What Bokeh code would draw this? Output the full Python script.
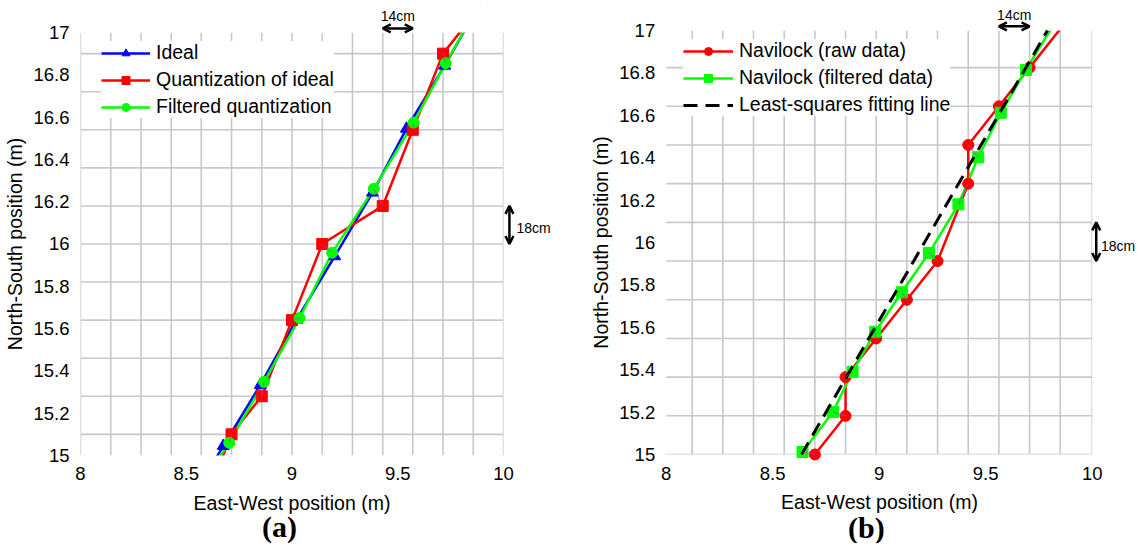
from bokeh.plotting import figure
from bokeh.models import (FixedTicker, Legend, LegendItem, Label, Arrow, OpenHead,
                          NumeralTickFormatter, LinearAxis, BoxAnnotation)
from bokeh.layouts import row
from bokeh.embed import file_html
from bokeh.resources import INLINE

# ---------------- data ----------------
x_ticks = [8, 8.5, 9, 9.5, 10]
y_ticks = [15, 15.2, 15.4, 15.6, 15.8, 16, 16.2, 16.4, 16.6, 16.8, 17]

# panel (a) grid (quantization cells)
a_grid_x = [8.0, 8.143, 8.286, 8.429, 8.571, 8.714, 8.857, 9.0, 9.143, 9.286,
            9.429, 9.571, 9.714, 9.857, 10.0]
a_grid_y = [15.10, 15.28, 15.46, 15.64, 15.82, 16.00, 16.18, 16.36, 16.54, 16.72, 16.90]

ideal_x = [8.500, 8.675, 8.850, 9.021, 9.202, 9.381, 9.541, 9.722, 9.890]
ideal_y = [14.750, 15.045, 15.333, 15.641, 15.942, 16.243, 16.545, 16.843, 17.140]

quant_x = [8.571, 8.714, 8.857, 9.000, 9.143, 9.429, 9.571, 9.714, 9.857]
quant_y = [14.74, 15.10, 15.28, 15.64, 16.00, 16.18, 16.54, 16.90, 17.08]

filt_q_x = [8.498, 8.703, 8.868, 9.036, 9.190, 9.387, 9.575, 9.727, 9.894]
filt_q_y = [14.760, 15.060, 15.348, 15.650, 15.959, 16.261, 16.574, 16.855, 17.150]

# panel (b) grid
b_grid_x = [8.122, 8.266, 8.410, 8.554, 8.698, 8.842, 8.986, 9.130, 9.274, 9.418,
            9.562, 9.706, 9.850, 10.0]
b_grid_y = [15.0, 15.1825, 15.365, 15.5475, 15.73, 15.9125, 16.095, 16.2775,
            16.46, 16.6425, 16.825]

raw_x = [8.698, 8.842, 8.842, 8.986, 9.130, 9.274, 9.418, 9.418, 9.562, 9.706, 9.850]
raw_y = [15.0, 15.1825, 15.365, 15.5475, 15.73, 15.9125, 16.2775, 16.46, 16.6425,
         16.825, 17.0075]

filt_x = [8.640, 8.783, 8.875, 8.981, 9.106, 9.234, 9.372, 9.465, 9.571, 9.689, 9.820]
filt_y = [15.012, 15.201, 15.390, 15.579, 15.765, 15.950, 16.180, 16.402, 16.612,
          16.814, 17.030]

ls_x = [8.635, 9.790]
ls_y = [15.0, 17.0]

X0, X1, Y0, Y1 = 8, 10, 15, 17   # axes box

FONT = "Liberation Sans"
GRID = "#c8c8c8"
BLUE = "#0000ff"
RED = "#ff0000"
GREEN = "#00ff00"
LINK = "#b040c0"


def inside(xs, ys):
    keep = [(x, y) for x, y in zip(xs, ys) if X0 <= x <= X1 and Y0 <= y <= Y1]
    return [k[0] for k in keep], [k[1] for k in keep]


def inside_pairs(xa, ya, xb, yb):
    keep = [(a, b, c, d) for a, b, c, d in zip(xa, ya, xb, yb)
            if X0 <= a <= X1 and Y0 <= b <= Y1 and X0 <= c <= X1 and Y0 <= d <= Y1]
    return [list(t) for t in zip(*keep)]


def base_fig(w, h, xr, yr, gx, gy):
    p = figure(width=w, height=h, x_range=xr, y_range=yr,
               x_axis_location=None, y_axis_location=None,
               min_border=0, toolbar_location=None, output_backend="svg")
    p.outline_line_color = None
    p.background_fill_color = "white"
    p.border_fill_color = "white"
    for g in p.grid:
        g.visible = False
    xa = LinearAxis(fixed_location=Y0, bounds=(X0, X1), ticker=FixedTicker(ticks=x_ticks),
                    axis_label="East-West position (m)")
    ya = LinearAxis(fixed_location=X0, bounds=(Y0, Y1), ticker=FixedTicker(ticks=y_ticks),
                    axis_label="North-South position (m)")
    for ax in (xa, ya):
        ax.axis_line_color = None
        ax.major_tick_line_color = None
        ax.minor_tick_line_color = None
        ax.major_label_text_font = FONT
        ax.major_label_text_font_size = "18.5px"
        ax.major_label_text_color = "black"
        ax.axis_label_text_font = FONT
        ax.axis_label_text_font_size = "19.5px"
        ax.axis_label_text_font_style = "normal"
        ax.axis_label_text_color = "black"
        ax.formatter = NumeralTickFormatter(format="0.[0]")
    xa.major_label_standoff = 6
    ya.major_label_standoff = 5
    xa.axis_label_standoff = 8
    ya.axis_label_standoff = 4
    p.add_layout(xa, "below")
    p.add_layout(ya, "left")
    # grid lines of the quantization cells
    p.segment(x0=gx, y0=[Y0] * len(gx), x1=gx, y1=[Y1] * len(gx),
              line_color=GRID, line_width=1.6)
    p.segment(x0=[X0] * len(gy), y0=gy, x1=[X1] * len(gy), y1=gy,
              line_color=GRID, line_width=1.6)
    return p


def mask_outside(p):
    # lines are clipped at the axes box, as in the original figure
    for kw in (dict(top=Y0), dict(bottom=Y1), dict(right=X0), dict(left=X1)):
        b = BoxAnnotation(fill_color="white", fill_alpha=1, line_alpha=0, level="glyph", **kw)
        p.renderers.append(b)


def legend_for(p, items, loc, gw):
    lg = Legend(items=items, location=loc)
    lg.label_text_font = FONT
    lg.label_text_font_size = "19.5px"
    lg.label_text_color = "black"
    lg.glyph_width = gw
    lg.glyph_height = 20
    lg.label_height = 20
    lg.label_standoff = 6
    lg.spacing = 4
    lg.padding = 9
    lg.margin = 0
    lg.border_line_color = None
    lg.background_fill_color = "white"
    lg.background_fill_alpha = 1
    p.add_layout(lg)


def dim_arrow(p, x0, y0, x1, y1):
    p.add_layout(Arrow(start=OpenHead(size=8, line_width=2.5, line_color="black"),
                       end=OpenHead(size=8, line_width=2.5, line_color="black"),
                       x_start=x0, y_start=y0, x_end=x1, y_end=y1,
                       line_width=2.5, line_color="black"))


def note(p, x, y, text, align):
    p.add_layout(Label(x=x, y=y, text=text, text_font=FONT, text_font_size="14px",
                       text_color="black", text_align=align, text_baseline="middle"))


def panel_tag(p, x, y, text):
    p.add_layout(Label(x=x, y=y, text=text, text_font="Liberation Serif",
                       text_font_style="bold", text_font_size="30px", text_color="black",
                       text_align="center", text_baseline="middle"))


H = 543

# ---------------- panel (a) ----------------
pa = base_fig(575, H, (7.6217, 10.3404), (14.5839, 17.1513), a_grid_x, a_grid_y)

l_ideal = pa.line(ideal_x, ideal_y, line_color=BLUE, line_width=2.5)
l_quant = pa.line(quant_x, quant_y, line_color=RED, line_width=2.5)
l_filt = pa.line(filt_q_x, filt_q_y, line_color=GREEN, line_width=2.5)
mask_outside(pa)
ix, iy = inside(ideal_x, ideal_y)
qx, qy = inside(quant_x, quant_y)
fx, fy = inside(filt_q_x, filt_q_y)
s_ideal = pa.scatter(ix, iy, marker="triangle", size=12, color=BLUE)
s_quant = pa.scatter(qx, qy, marker="square", size=11, color=RED)
s_filt = pa.scatter(fx, fy, marker="circle", size=11, color=GREEN)
lk = inside_pairs(quant_x, quant_y, filt_q_x, filt_q_y)
pa.segment(lk[0], lk[1], lk[2], lk[3], line_color=LINK, line_width=1, line_alpha=0.8)

legend_for(pa, [LegendItem(label="Ideal", renderers=[l_ideal, s_ideal]),
                LegendItem(label="Quantization of ideal", renderers=[l_quant, s_quant]),
                LegendItem(label="Filtered quantization", renderers=[l_filt, s_filt])],
           (101, 425), 49)

dim_arrow(pa, 9.429, 17.019, 9.571, 17.019)
note(pa, 9.5, 17.077, "14cm", "center")
dim_arrow(pa, 10.028, 16.18, 10.028, 16.0)
note(pa, 10.061, 16.078, "18cm", "left")
panel_tag(pa, 8.941, 14.662, "(a)")

# ---------------- panel (b) ----------------
pb = base_fig(560, H, (7.5742, 10.2033), (14.5802, 17.1415), b_grid_x, b_grid_y)

l_raw = pb.line(raw_x, raw_y, line_color=RED, line_width=2.5)
l_f = pb.line(filt_x, filt_y, line_color=GREEN, line_width=2.5)
mask_outside(pb)
rx, ry = inside(raw_x, raw_y)
gx2, gy2 = inside(filt_x, filt_y)
s_raw = pb.scatter(rx, ry, marker="circle", size=11, color=RED)
s_f = pb.scatter(gx2, gy2, marker="square", size=11, color=GREEN)
l_ls = pb.line(ls_x, ls_y, line_color="black", line_width=3, line_dash="14 8")
lk2 = inside_pairs(raw_x, raw_y, filt_x, filt_y)
pb.segment(lk2[0], lk2[1], lk2[2], lk2[3], line_color=LINK, line_width=1, line_alpha=0.8)

legend_for(pb, [LegendItem(label="Navilock (raw data)", renderers=[l_raw, s_raw]),
                LegendItem(label="Navilock (filtered data)", renderers=[l_f, s_f]),
                LegendItem(label="Least-squares fitting line", renderers=[l_ls])],
           (108, 427), 50)

dim_arrow(pb, 9.562, 17.02, 9.706, 17.02)
note(pb, 9.634, 17.074, "14cm", "center")
dim_arrow(pb, 10.019, 16.095, 10.019, 15.9125)
note(pb, 10.041, 15.983, "18cm", "left")
panel_tag(pb, 8.940, 14.658, "(b)")

layout = row(pa, pb)
open("out.html", "w").write(file_html(layout, INLINE))
